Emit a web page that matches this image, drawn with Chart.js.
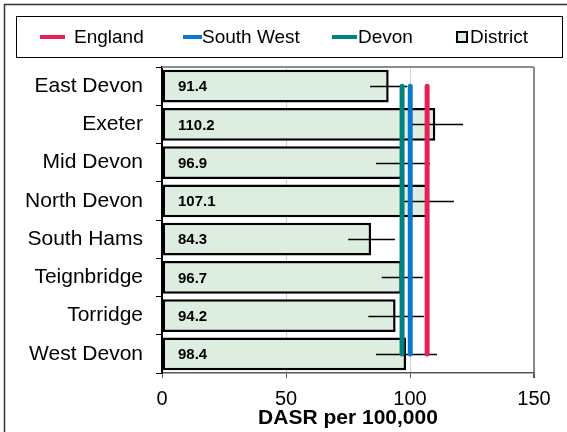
<!DOCTYPE html>
<html>
<head>
<meta charset="utf-8">
<script src="https://cdn.jsdelivr.net/npm/chart.js@4.4.1/dist/chart.umd.min.js"></script>
<style>
  body { margin: 0; background: #fff; }
  #wrap { width: 567px; height: 432px; }
</style>
</head>
<body>
<div id="wrap"><canvas id="dasrChart" width="567" height="432"></canvas></div>
<script>
// districts and their rates (DASR per 100,000)
const districts = ['East Devon', 'Exeter', 'Mid Devon', 'North Devon', 'South Hams', 'Teignbridge', 'Torridge', 'West Devon']
const districtRate = [91.4, 110.2, 96.9, 107.1, 84.3, 96.7, 94.2, 98.4]
// 95% confidence limits
const ciLower = [83.9, 100.6, 86.3, 97.6, 75.1, 88.6, 83.2, 86.3]
const ciUpper = [98.9, 121.4, 108.1, 117.7, 94.0, 105.2, 105.6, 110.9]
// comparator areas
const areaNames = ['England', 'South West', 'Devon']
const areaRate = [106.9, 100.1, 96.8]
const areaColours = ['#e81e57', '#0b78d0', '#00817d']
const xTicks = [0, 50, 100, 150]

const FONT = "'Liberation Sans', Arial, sans-serif"
const barFill = '#ddeee1'

const lineSets = areaNames.map((name, i) => ({
    type: 'line',
    label: name,
    indexAxis: 'y',
    data: districts.map(d => ({ x: areaRate[i], y: d })),
    borderColor: areaColours[i],
    borderWidth: 5,
    borderCapStyle: 'round',
    pointRadius: 0,
    fill: false
}))

// error bars + value labels, drawn right after the bars (under the area lines)
const barExtras = {
    id: 'barExtras',
    afterDatasetDraw(chart, args) {
        if (args.meta.type !== 'bar') return
        const ctx = chart.ctx
        const xs = chart.scales.x, ys = chart.scales.y
        ctx.save()
        ctx.strokeStyle = '#000'
        ctx.lineWidth = 1.5
        districts.forEach((d, i) => {
            const y = Math.round(ys.getPixelForValue(i)) + 0.5
            ctx.beginPath()
            ctx.moveTo(xs.getPixelForValue(ciLower[i]), y)
            ctx.lineTo(xs.getPixelForValue(ciUpper[i]), y)
            ctx.stroke()
        })
        ctx.fillStyle = '#000'
        ctx.font = 'bold 15px ' + FONT
        ctx.textBaseline = 'middle'
        districts.forEach((d, i) => {
            ctx.fillText(districtRate[i].toFixed(1), xs.getPixelForValue(0) + 16, ys.getPixelForValue(i) + 1)
        })
        ctx.restore()
    }
}

// gray top edge of plot area, outer frame and the boxed legend
const frameAndLegend = {
    id: 'frameAndLegend',
    beforeDatasetsDraw(chart) {
        const { ctx, chartArea } = chart
        ctx.save()
        ctx.strokeStyle = '#8c8c8c'
        ctx.lineWidth = 2
        ctx.beginPath()
        ctx.moveTo(chartArea.left, chartArea.top)
        ctx.lineTo(chartArea.right, chartArea.top)
        ctx.stroke()
        ctx.restore()
    },
    afterDraw(chart) {
        const ctx = chart.ctx
        ctx.save()
        ctx.strokeStyle = '#333'
        ctx.lineWidth = 1.5
        ctx.strokeRect(4.5, 4.5, 570, 440)
        ctx.strokeStyle = '#000'
        ctx.lineWidth = 1
        ctx.strokeRect(16.5, 16.5, 546, 41)

        const cy = 37
        const markX = [40, 183, 332]
        const markW = [25, 19, 25]
        const textX = [74, 202, 358]
        ctx.font = '19px ' + FONT
        ctx.textBaseline = 'middle'
        ctx.fillStyle = '#000'
        areaNames.forEach((name, i) => {
            ctx.strokeStyle = areaColours[i]
            ctx.lineWidth = 4
            ctx.beginPath()
            ctx.moveTo(markX[i], cy)
            ctx.lineTo(markX[i] + markW[i], cy)
            ctx.stroke()
            ctx.fillText(name, textX[i], cy + 1)
        })
        ctx.fillStyle = barFill
        ctx.fillRect(457, 32, 10, 10)
        ctx.strokeStyle = '#000'
        ctx.lineWidth = 2
        ctx.strokeRect(457, 32, 10, 10)
        ctx.fillStyle = '#000'
        ctx.fillText('District', 470, cy + 1)
        ctx.restore()
    }
}

const chartCtx = document.getElementById('dasrChart').getContext('2d')
new Chart(chartCtx, {
    type: 'bar',
    data: {
        labels: districts,
        datasets: [
            ...lineSets,
            {
                label: 'District',
                data: districtRate,
                backgroundColor: barFill,
                borderColor: '#000',
                borderWidth: 2.5,
                borderSkipped: false,
                barPercentage: 0.86,
                categoryPercentage: 1
            }
        ]
    },
    options: {
        indexAxis: 'y',
        responsive: false,
        animation: false,
        events: [],
        layout: { padding: { top: 67, right: 33, left: 0, bottom: 0 } },
        plugins: {
            legend: { display: false },
            tooltip: { enabled: false }
        },
        scales: {
            x: {
                type: 'linear',
                min: 0,
                max: 150,
                afterBuildTicks: (scale) => { scale.ticks = xTicks.map(v => ({ value: v })) },
                afterFit: (scale) => { scale.height = 59 },
                grid: {
                    color: (c) => c.tick.value === 0 ? 'rgba(0,0,0,0)' : (c.tick.value === 150 ? '#8c8c8c' : '#cfcfcf'),
                    lineWidth: (c) => c.tick.value === 150 ? 2 : 1,
                    tickColor: '#555',
                    tickLength: 5
                },
                border: { color: '#555', width: 1.5 },
                ticks: { color: '#000', font: { family: FONT, size: 20 }, padding: 9 },
                title: {
                    display: true,
                    text: 'DASR per 100,000',
                    color: '#000',
                    font: { family: FONT, size: 21, weight: 'bold' },
                    padding: { top: 0, bottom: 1 }
                }
            },
            y: {
                type: 'category',
                offset: true,
                afterFit: (scale) => { scale.width = 162 },
                grid: {
                    offset: true,
                    drawOnChartArea: false,
                    color: '#000',
                    tickLength: 6
                },
                border: { color: '#000', width: 2 },
                ticks: { color: '#000', font: { family: FONT, size: 21 }, padding: 13 }
            }
        }
    },
    plugins: [barExtras, frameAndLegend]
})
</script>
</body>
</html>
